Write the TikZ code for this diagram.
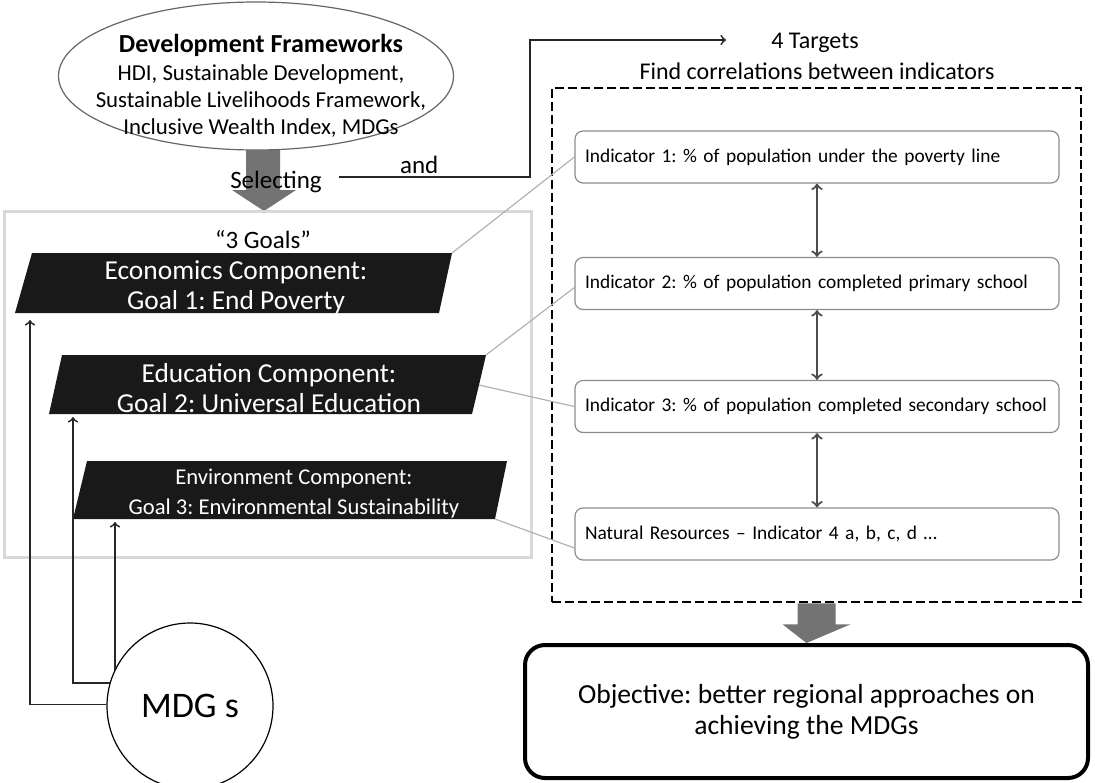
\documentclass[tikz,border=0pt]{standalone}
\usepackage{fontspec}
\setmainfont{Carlito}
\frenchspacing
\usetikzlibrary{arrows, positioning, calc, shapes.geometric}
\tikzstyle{goal}=[fill=black!90]
\tikzstyle{goaltext}=[text=white, align=center, inner sep=0pt, font=\fontsize{13.7}{15}\selectfont]
\tikzstyle{indicator}=[draw=black!45, rounded corners=4pt, line width=0.6pt, minimum width=242pt, minimum height=26pt, text width=232pt, inner xsep=5pt, align=left, font=\fontsize{9.7}{11}\selectfont]
\tikzstyle{link}=[draw=black!30, line width=0.6pt]
\tikzstyle{flow}=[->, draw=black!85, line width=0.9pt]
\tikzstyle{corr}=[<->, draw=black!70, line width=1.1pt]
\tikzstyle{blockarrow}=[fill=black!55]

\begin{document}
\begin{tikzpicture}[x=0.5pt, y=-0.5pt]
    \useasboundingbox (0,0) rectangle (1095,782);

    % frameworks and selection
    \node[ellipse, draw=black!60, line width=0.6pt, minimum width=197.5pt, minimum height=74pt] (frameworks) at (256,76) {};
    \node[align=center, inner sep=0pt, font=\fontsize{11.4}{13.65}\selectfont] (fwtext) at (261,86) {{\fontsize{13}{13.65}\selectfont\bfseries Development Frameworks}\\HDI, Sustainable Development,\\Sustainable Livelihoods Framework,\\Inclusive Wealth Index, MDGs};

    \fill[blockarrow] (246,150) -- (280,150) -- (280,190) -- (296,190) -- (264,211) -- (232,190) -- (246,190) -- cycle;
    \node[font=\fontsize{12.5}{14}\selectfont] (selecting) at (276,182) {Selecting};

    % goals
    \node[draw=black!15, line width=1.5pt, minimum width=263.5pt, minimum height=173pt] (goalsbox) at (268,384) {};
    \node[font=\fontsize{12.5}{14}\selectfont] (goalstitle) at (263,240) {``3 Goals''};

    \fill[goal] (32,253) -- (452,253) coordinate (g1ne) -- (439,313) -- (15,313) -- cycle;
    \node[goaltext] (goal1) at (236,287) {Economics Component:\\Goal 1: End Poverty};

    \fill[goal] (62,355) -- (486,355) coordinate (g2ne) -- (479,385) coordinate (g2e) -- (472,414) -- (49,414) -- cycle;
    \node[goaltext] (goal2) at (269,388) {Education Component:\\Goal 2: Universal Education};

    \fill[goal] (87,461) -- (507,461) -- (495,519) coordinate (g3se) -- (73,519) -- cycle;
    \node[goaltext, font=\fontsize{11.3}{15}\selectfont] (goal3) at (294,494) {Environment Component:\\Goal 3: Environmental Sustainability};

    % targets
    \node[font=\fontsize{12}{14}\selectfont] (targets) at (815,43) {4 Targets};
    \node[font=\fontsize{12}{14}\selectfont] (findcorr) at (817,71) {Find correlations between indicators};
    \node[draw, dashed, line width=1.3pt, dash pattern=on 4.5pt off 2pt, minimum width=264.5pt, minimum height=257pt] (targetsbox) at (816.5,345) {};

    \node[indicator] (ind1) at (817,157) {Indicator 1: \% of population under the poverty line};
    \node[indicator] (ind2) at (817,283.5) {Indicator 2: \% of population completed primary school};
    \node[indicator] (ind3) at (817,406.5) {Indicator 3: \% of population completed secondary school};
    \node[indicator] (ind4) at (817,534) {Natural Resources -- Indicator 4 a, b, c, d \dots};

    \draw[corr] (ind1.south) -- (ind2.north);
    \draw[corr] (ind2.south) -- (ind3.north);
    \draw[corr] (ind3.south) -- (ind4.north);

    \draw[link] (g1ne) -- (ind1.west);
    \draw[link] (g2ne) -- ([yshift=-2pt]ind2.west);
    \draw[link] (g2e) -- (ind3.west);
    \draw[link] (g3se) -- ([yshift=-7pt]ind4.west);

    \coordinate (selout) at (339,177);
    \coordinate (andturn) at (530,177);
    \coordinate (tgtin) at (726,40);
    \draw[flow] (selout) -- node[pos=0.42, above, inner sep=1pt, font=\fontsize{12.5}{14}\selectfont] (and) {and} (andturn) |- (tgtin);

    % objective
    \node[draw, line width=2pt, rounded corners=10pt, minimum width=281.5pt, minimum height=66.5pt, align=center, font=\fontsize{13.8}{15.5}\selectfont] (objective) at (806.5,711.5) {Objective: better regional approaches on\\achieving the MDGs};
    \fill[blockarrow] ($(targetsbox.south)+(-19,0)$) -- ($(targetsbox.south)+(19,0)$) -- ($(targetsbox.south)+(19,21)$) -- ($(targetsbox.south)+(34,21)$) -- (objective.north) -- ($(targetsbox.south)+(-34,21)$) -- ($(targetsbox.south)+(-19,21)$) -- cycle;

    % MDGs
    \node[circle, draw, line width=0.6pt, minimum size=83pt, inner sep=0pt, font=\fontsize{18}{20}\selectfont] (mdg) at (190,706) {MDG s};
    \coordinate (g1in) at (30,320);
    \coordinate (g2in) at (73,417);
    \coordinate (g3in) at (115,522);
    \draw[flow] (mdg.179) -| (g1in);
    \draw[flow] (mdg.164) -| (g2in);
    \draw[flow] (g3in |- mdg.155) -- (g3in);
\end{tikzpicture}
\end{document}
